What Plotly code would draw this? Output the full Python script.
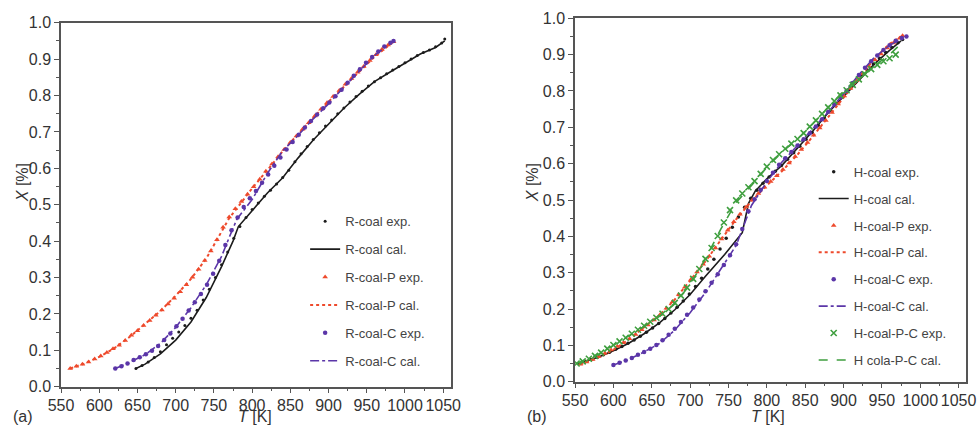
import plotly.graph_objects as go

# ---------------- Panel (a): R-coal series ----------------
r_exp_T = [648, 656, 664, 672, 680, 688, 696, 704, 712, 720, 728, 736, 744, 752, 760, 768, 776, 784,
           792, 800, 808, 816, 824, 832, 840, 848, 856, 864, 872, 880, 888, 896, 904, 912, 920, 928,
           936, 944, 952, 960, 968, 976, 984, 992, 1000, 1008, 1016, 1024, 1032, 1040, 1048, 1052]
r_exp_X = [0.050, 0.058, 0.068, 0.080, 0.096, 0.115, 0.133, 0.150, 0.168, 0.188, 0.210, 0.238, 0.268,
           0.300, 0.335, 0.370, 0.408, 0.440, 0.465, 0.487, 0.505, 0.523, 0.540, 0.557, 0.575, 0.595,
           0.618, 0.640, 0.660, 0.679, 0.698, 0.716, 0.733, 0.750, 0.766, 0.782, 0.797, 0.812, 0.826,
           0.838, 0.849, 0.860, 0.870, 0.880, 0.890, 0.900, 0.910, 0.918, 0.925, 0.934, 0.944, 0.955]
r_cal_T = [648, 660, 680, 700, 720, 740, 760, 775, 782, 790, 800, 820, 840, 860, 880, 900, 920, 940,
           960, 980, 1000, 1020, 1040, 1052]
r_cal_X = [0.050, 0.062, 0.090, 0.128, 0.178, 0.245, 0.330, 0.400, 0.440, 0.460, 0.485, 0.532, 0.574,
           0.628, 0.678, 0.722, 0.765, 0.803, 0.838, 0.864, 0.890, 0.914, 0.932, 0.950]

rp_exp_T = [562, 570, 578, 586, 594, 602, 610, 618, 626, 634, 642, 650, 658, 666, 674, 682, 690, 698,
            706, 714, 722, 730, 738, 746, 754, 762, 770, 778, 786, 794, 802, 810, 818, 826, 834, 842,
            850, 858, 866, 874, 882, 890, 898, 906, 914, 922, 930, 938, 946, 954, 962, 970, 978, 985]
rp_exp_X = [0.050, 0.056, 0.062, 0.068, 0.076, 0.084, 0.094, 0.104, 0.114, 0.127, 0.141, 0.154, 0.168,
            0.182, 0.196, 0.211, 0.227, 0.243, 0.261, 0.280, 0.301, 0.323, 0.347, 0.373, 0.404, 0.438,
            0.466, 0.489, 0.509, 0.529, 0.549, 0.570, 0.592, 0.612, 0.632, 0.652, 0.671, 0.689, 0.707,
            0.725, 0.744, 0.762, 0.780, 0.797, 0.814, 0.831, 0.847, 0.864, 0.880, 0.896, 0.912, 0.927,
            0.939, 0.948]
rp_cal_T = [562, 580, 600, 620, 640, 660, 680, 700, 720, 740, 760, 770, 780, 800, 820, 840, 860, 880,
            900, 920, 940, 960, 985]
rp_cal_X = [0.050, 0.063, 0.082, 0.106, 0.137, 0.172, 0.208, 0.250, 0.296, 0.352, 0.428, 0.463, 0.490,
            0.545, 0.595, 0.647, 0.694, 0.740, 0.783, 0.824, 0.866, 0.906, 0.948]

rc_exp_T = [621, 629, 637, 645, 653, 661, 669, 677, 685, 693, 701, 709, 717, 725, 733, 741, 749, 757,
            765, 773, 781, 789, 797, 805, 813, 821, 829, 837, 845, 853, 861, 869, 877, 885, 893, 901,
            909, 917, 925, 933, 941, 949, 957, 965, 973, 981, 985]
rc_exp_X = [0.050, 0.056, 0.064, 0.073, 0.081, 0.089, 0.099, 0.112, 0.128, 0.146, 0.166, 0.187, 0.209,
            0.232, 0.255, 0.280, 0.310, 0.346, 0.389, 0.430, 0.465, 0.494, 0.518, 0.538, 0.560, 0.583,
            0.607, 0.630, 0.652, 0.672, 0.692, 0.712, 0.730, 0.748, 0.765, 0.781, 0.798, 0.816, 0.835,
            0.854, 0.872, 0.890, 0.906, 0.921, 0.935, 0.945, 0.950]
rc_cal_T = [621, 640, 660, 680, 700, 720, 740, 760, 770, 780, 800, 820, 840, 860, 880, 900, 920, 940,
            960, 985]
rc_cal_X = [0.050, 0.067, 0.088, 0.119, 0.163, 0.217, 0.280, 0.358, 0.410, 0.460, 0.514, 0.586, 0.648,
            0.690, 0.736, 0.777, 0.823, 0.868, 0.910, 0.950]

# ---------------- Panel (b): H-coal series ----------------
h_exp_T = [555, 563, 571, 579, 587, 595, 603, 611, 619, 627, 635, 643, 651, 659, 667, 675, 683, 691,
           699, 707, 715, 723, 731, 739, 747, 755, 763, 771, 779, 787, 795, 803, 811, 819, 827, 835,
           843, 851, 859, 867, 875, 883, 891, 899, 907, 915, 923, 931, 939, 947, 955, 963, 971, 977]
h_exp_X = [0.050, 0.055, 0.061, 0.067, 0.074, 0.081, 0.089, 0.097, 0.106, 0.115, 0.125, 0.136, 0.148,
           0.160, 0.174, 0.189, 0.205, 0.222, 0.241, 0.262, 0.285, 0.310, 0.337, 0.365, 0.395, 0.425,
           0.453, 0.480, 0.505, 0.527, 0.546, 0.563, 0.579, 0.595, 0.612, 0.630, 0.648, 0.667, 0.686,
           0.706, 0.726, 0.746, 0.766, 0.785, 0.804, 0.823, 0.841, 0.858, 0.874, 0.890, 0.906, 0.920,
           0.933, 0.942]
h_cal_T = [555, 580, 600, 620, 640, 660, 680, 700, 720, 745, 768, 772, 776, 785, 800, 820, 840, 860,
           880, 900, 920, 940, 960, 975]
h_cal_X = [0.050, 0.067, 0.085, 0.106, 0.132, 0.162, 0.198, 0.240, 0.290, 0.350, 0.410, 0.450, 0.490,
           0.525, 0.558, 0.596, 0.642, 0.690, 0.740, 0.785, 0.832, 0.874, 0.912, 0.938]

hp_exp_T = [557, 565, 573, 581, 589, 597, 605, 613, 621, 629, 637, 645, 653, 661, 669, 677, 685, 693,
            701, 709, 717, 725, 733, 741, 749, 757, 765, 773, 781, 789, 797, 805, 813, 821, 829, 837,
            845, 853, 861, 869, 877, 885, 893, 901, 909, 917, 925, 933, 941, 949, 957, 965, 973, 977]
hp_exp_X = [0.048, 0.054, 0.061, 0.069, 0.078, 0.087, 0.097, 0.107, 0.118, 0.130, 0.143, 0.156, 0.170,
            0.185, 0.202, 0.220, 0.240, 0.260, 0.281, 0.302, 0.323, 0.345, 0.368, 0.393, 0.417, 0.440,
            0.461, 0.481, 0.500, 0.518, 0.535, 0.551, 0.567, 0.584, 0.602, 0.620, 0.639, 0.658, 0.678,
            0.698, 0.719, 0.741, 0.764, 0.786, 0.807, 0.828, 0.848, 0.868, 0.886, 0.902, 0.918, 0.932,
            0.945, 0.952]
hp_cal_T = [557, 580, 600, 620, 640, 660, 680, 700, 720, 740, 760, 780, 800, 820, 840, 860, 880, 900,
            920, 940, 960, 977]
hp_cal_X = [0.048, 0.066, 0.088, 0.116, 0.150, 0.183, 0.226, 0.277, 0.331, 0.390, 0.447, 0.497, 0.540,
            0.580, 0.625, 0.675, 0.728, 0.784, 0.836, 0.888, 0.930, 0.952]

hc_exp_T = [600, 608, 616, 624, 632, 640, 648, 656, 664, 672, 680, 688, 696, 704, 712, 720, 728, 736,
            744, 752, 760, 768, 776, 784, 792, 800, 808, 816, 824, 832, 840, 848, 856, 864, 872, 880,
            888, 896, 904, 912, 920, 928, 936, 944, 952, 960, 968, 976, 982]
hc_exp_X = [0.046, 0.052, 0.058, 0.065, 0.074, 0.082, 0.091, 0.101, 0.114, 0.129, 0.146, 0.164, 0.184,
            0.204, 0.226, 0.249, 0.272, 0.296, 0.321, 0.348, 0.378, 0.420, 0.469, 0.502, 0.528, 0.552,
            0.575, 0.597, 0.615, 0.632, 0.650, 0.667, 0.684, 0.702, 0.722, 0.743, 0.763, 0.782, 0.801,
            0.822, 0.844, 0.864, 0.882, 0.898, 0.913, 0.926, 0.938, 0.946, 0.950]
hc_cal_T = [600, 620, 640, 660, 680, 700, 720, 740, 760, 770, 780, 800, 820, 840, 860, 880, 900, 920,
            940, 960, 982]
hc_cal_X = [0.046, 0.061, 0.082, 0.105, 0.142, 0.190, 0.245, 0.310, 0.375, 0.430, 0.485, 0.550, 0.605,
            0.650, 0.695, 0.742, 0.792, 0.845, 0.892, 0.926, 0.950]

hpc_exp_T = [552, 560, 568, 576, 584, 592, 600, 608, 616, 624, 632, 640, 648, 656, 664, 672, 680, 688,
             696, 704, 712, 720, 728, 736, 744, 752, 760, 768, 776, 784, 792, 800, 808, 816, 824, 832,
             840, 848, 856, 864, 872, 880, 888, 896, 904, 912, 920, 928, 936, 944, 952, 960, 968]
hpc_exp_X = [0.050, 0.056, 0.063, 0.071, 0.080, 0.091, 0.101, 0.111, 0.121, 0.132, 0.143, 0.154, 0.165,
             0.176, 0.187, 0.200, 0.217, 0.237, 0.259, 0.283, 0.310, 0.338, 0.368, 0.401, 0.438, 0.472,
             0.499, 0.518, 0.535, 0.552, 0.572, 0.592, 0.610, 0.626, 0.641, 0.655, 0.668, 0.684, 0.702,
             0.719, 0.737, 0.755, 0.772, 0.788, 0.802, 0.817, 0.832, 0.846, 0.860, 0.872, 0.882, 0.890,
             0.900]
hpc_cal_T = [552, 580, 600, 620, 640, 660, 680, 700, 720, 740, 760, 780, 800, 820, 840, 860, 880, 900,
             920, 940, 960, 975]
hpc_cal_X = [0.050, 0.075, 0.100, 0.125, 0.152, 0.180, 0.214, 0.268, 0.338, 0.420, 0.493, 0.540, 0.590,
             0.632, 0.668, 0.710, 0.755, 0.800, 0.838, 0.868, 0.900, 0.930]

x_ticks = [550, 600, 650, 700, 750, 800, 850, 900, 950, 1000, 1050]
y_ticks = [0.0, 0.1, 0.2, 0.3, 0.4, 0.5, 0.6, 0.7, 0.8, 0.9, 1.0]

BLACK = "#1c1c1c"
RED = "#ee4a2c"
PURPLE = "#5b36a8"
GREEN = "#3f9f3f"
TEXT = "#333333"
FONT = "Liberation Sans"

fig = go.Figure()


def exp_trace(T, X, name, color, symbol, size, xa, ya, leg, lw=0):
    marker = dict(color=color, symbol=symbol, size=size)
    if lw:
        marker["line"] = dict(color=color, width=lw)
    fig.add_trace(go.Scatter(x=T, y=X, mode="markers", name=name, marker=marker,
                             xaxis=xa, yaxis=ya, legend=leg, legendgroup=name))


def cal_trace(T, X, name, color, dash, width, xa, ya, leg):
    fig.add_trace(go.Scatter(x=T, y=X, mode="lines", name=name,
                             line=dict(color=color, dash=dash, width=width),
                             xaxis=xa, yaxis=ya, legend=leg, legendgroup=name))


# Panel (a)
exp_trace(r_exp_T, r_exp_X, "R-coal exp.", BLACK, "circle", 3, "x", "y", "legend")
cal_trace(r_cal_T, r_cal_X, "R-coal cal.", BLACK, "solid", 1.6, "x", "y", "legend")
exp_trace(rp_exp_T, rp_exp_X, "R-coal-P exp.", RED, "triangle-up", 5, "x", "y", "legend")
cal_trace(rp_cal_T, rp_cal_X, "R-coal-P cal.", RED, "dot", 2, "x", "y", "legend")
exp_trace(rc_exp_T, rc_exp_X, "R-coal-C exp.", PURPLE, "circle", 4.5, "x", "y", "legend")
cal_trace(rc_cal_T, rc_cal_X, "R-coal-C cal.", PURPLE, "dashdot", 1.6, "x", "y", "legend")

# Panel (b)
exp_trace(h_exp_T, h_exp_X, "H-coal exp.", BLACK, "circle", 3.5, "x2", "y2", "legend2")
cal_trace(h_cal_T, h_cal_X, "H-coal cal.", BLACK, "solid", 1.6, "x2", "y2", "legend2")
exp_trace(hp_exp_T, hp_exp_X, "H-coal-P exp.", RED, "triangle-up", 5, "x2", "y2", "legend2")
cal_trace(hp_cal_T, hp_cal_X, "H-coal-P cal.", RED, "dot", 2, "x2", "y2", "legend2")
exp_trace(hc_exp_T, hc_exp_X, "H-coal-C exp.", PURPLE, "circle", 4.5, "x2", "y2", "legend2")
cal_trace(hc_cal_T, hc_cal_X, "H-coal-C cal.", PURPLE, "dashdot", 1.6, "x2", "y2", "legend2")
exp_trace(hpc_exp_T, hpc_exp_X, "H-coal-P-C exp.", GREEN, "x-thin-open", 6, "x2", "y2", "legend2", lw=1.6)
cal_trace(hpc_cal_T, hpc_cal_X, "H cola-P-C cal.", GREEN, "dash", 1.6, "x2", "y2", "legend2")

axis_common = dict(
    showline=True, linecolor="#555555", linewidth=1.5, mirror=True,
    ticks="outside", ticklen=5, tickwidth=1.3, tickcolor="#555555",
    showgrid=False, zeroline=False, automargin=False,
    tickfont=dict(family=FONT, size=16, color=TEXT),
)
x_common = dict(axis_common, range=[550, 1060], tickvals=x_ticks, ticklabelstandoff=-2,
                minor=dict(ticks="outside", ticklen=3, tickwidth=1.2, tickcolor="#555555", dtick=25,
                           tick0=550, showgrid=False))
y_common = dict(axis_common, range=[0, 1.0], tickvals=y_ticks, tickformat=".1f",
                minor=dict(ticks="outside", ticklen=3, tickwidth=1.2, tickcolor="#555555", dtick=0.05,
                           tick0=0, showgrid=False))

legend_common = dict(
    bgcolor="rgba(0,0,0,0)", borderwidth=0, itemwidth=30,
    font=dict(family=FONT, size=13, color="#444444"), xanchor="left", yanchor="top",
)

title_font = dict(family=FONT, size=16, color=TEXT)


def paper_text(text, x, y, angle=0, yanchor="middle"):
    return dict(text=text, x=x, y=y, xref="paper", yref="paper", showarrow=False,
                xanchor="center", yanchor=yanchor, textangle=angle, font=title_font)


fig.update_layout(
    width=978, height=427,
    margin=dict(l=0, r=0, t=0, b=0),
    paper_bgcolor="white", plot_bgcolor="white",
    font=dict(family=FONT),
    xaxis=dict(x_common, domain=[0.0624, 0.461], anchor="y"),
    yaxis=dict(y_common, domain=[0.0944, 0.9468], anchor="x"),
    xaxis2=dict(x_common, domain=[0.588, 0.988], anchor="y2"),
    yaxis2=dict(y_common, domain=[0.1061, 0.9571], anchor="x2"),
    legend=dict(legend_common, x=0.312, y=0.517, tracegroupgap=8),
    legend2=dict(legend_common, x=0.832, y=0.633, tracegroupgap=7),
    annotations=[
        paper_text("<i>X</i> [%]", 0.0225, 0.571, -90),
        paper_text("<i>T</i> [K]", 0.261, 0.0, yanchor="bottom"),
        paper_text("(a)", 0.0235, 0.0, yanchor="bottom"),
        paper_text("<i>X</i> [%]", 0.544, 0.571, -90),
        paper_text("<i>T</i> [K]", 0.785, 0.0, yanchor="bottom"),
        paper_text("(b)", 0.549, 0.0, yanchor="bottom"),
    ],
)

fig.write_html("out.html")
